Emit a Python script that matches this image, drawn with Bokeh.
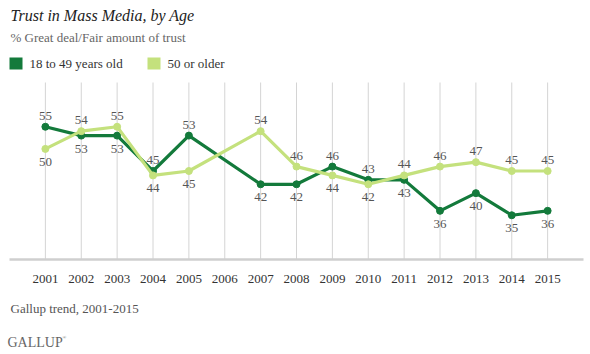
from bokeh.plotting import figure
from bokeh.models import Range1d, ColumnDataSource
from bokeh.core.properties import value
from bokeh.embed import file_html
from bokeh.resources import INLINE

# ---- data ----
years = [2001, 2002, 2003, 2004, 2005, 2007, 2008, 2009, 2010, 2011, 2012, 2013, 2014, 2015]
young = [55, 53, 53, 45, 53, 42, 42, 46, 43, 43, 36, 40, 35, 36]
older = [50, 54, 55, 44, 45, 54, 46, 44, 42, 44, 46, 47, 45, 45]
tick_years = list(range(2001, 2016))
tick_labels = [str(y) for y in tick_years]
young_pos = ["a", "b", "b", "a", "a", "b", "b", "a", "a", "b", "b", "b", "b", "b"]
older_pos = ["b", "a", "a", "b", "b", "a", "a", "b", "b", "a", "a", "a", "a", "a"]
series_names = ["18 to 49 years old", "50 or older"]

DARK = "#137a3b"
LIGHT = "#c4e17d"
SERIF = "Liberation Serif"

W, H = 590, 354
# plot area in pixels
FL, FR, FT, FB = 9, 583, 82, 259
X0, X1 = 2000, 2016
Y0, Y1 = 25, 65
kx = (X1 - X0) / (FR - FL)
ky = (Y1 - Y0) / (FB - FT)
def px(x):
    return X0 + (x - FL) * kx
def py(y):
    return Y1 - (y - FT) * ky

p = figure(width=W, height=H, output_backend="svg", toolbar_location=None,
           x_range=Range1d(px(0), px(W)), y_range=Range1d(py(H), py(0)),
           x_axis_location=None, y_axis_location=None,
           min_border=0)
p.outline_line_color = None
p.grid.visible = False
p.background_fill_color = "white"
p.border_fill_color = "white"

# vertical grid and baseline
p.segment(x0=tick_years, y0=[Y0] * len(tick_years), x1=tick_years, y1=[Y1] * len(tick_years),
          line_color="#d4d4d4", line_width=1)
p.segment(x0=[X0], y0=[Y0], x1=[X1], y1=[Y0], line_color="#cfcfcf", line_width=2.5)
p.text(x=tick_years, y=[Y0] * len(tick_years), text=tick_labels, y_offset=19,
       text_align="center", text_baseline="middle",
       text_font=value(SERIF), text_font_size="13px", text_color="#333333")

for vals, col in [(young, DARK), (older, LIGHT)]:
    p.line(years, vals, line_color=col, line_width=3.2)
    p.scatter(years, vals, size=7, fill_color=col, line_color=col)

for vals, pos in [(young, young_pos), (older, older_pos)]:
    for flag, off in [("a", -11), ("b", 13)]:
        xs = [y for y, f in zip(years, pos) if f == flag]
        vs = [v for v, f in zip(vals, pos) if f == flag]
        src = ColumnDataSource(dict(x=xs, y=vs, t=[str(v) for v in vs]))
        p.text(x="x", y="y", text="t", source=src, y_offset=off,
               text_align="center", text_baseline="middle",
               text_font=value(SERIF), text_font_size="13px", text_color="#555555")

def lab(x, y, text, size, color, style="normal", align="left"):
    p.text(x=[px(x)], y=[py(y)], text=[text], text_font=value(SERIF),
           text_font_size=size, text_color=color, text_font_style=style,
           text_baseline="middle", text_align=align)

lab(10, 15, "Trust in Mass Media, by Age", "16px", "#222222", "italic")
lab(10, 37, "% Great deal/Fair amount of trust", "13px", "#666666")

for x0, col, name in [(9, DARK, series_names[0]), (147, LIGHT, series_names[1])]:
    p.rect(x=[px(x0 + 6.5)], y=[py(63)], width=13, height=12,
           width_units="screen", height_units="screen",
           fill_color=col, line_color=None)
    lab(x0 + 20, 63, name, "13px", "#333333")

lab(10, 308, "Gallup trend, 2001-2015", "13px", "#555555")
lab(7, 342, "GALLUP", "14px", "#666666")
lab(62, 337, "\u00ae", "5px", "#666666")

open("out.html", "w").write(file_html(p, INLINE))
